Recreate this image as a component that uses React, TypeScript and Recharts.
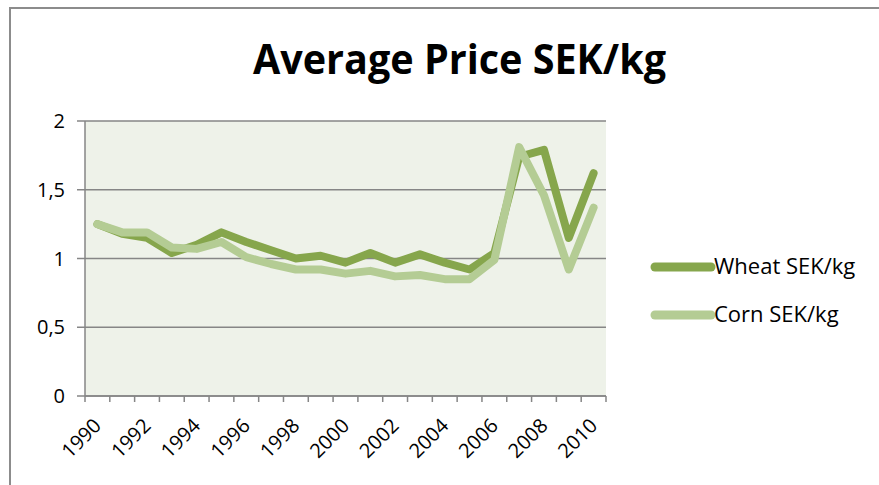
import { LineChart, Line, XAxis, YAxis, CartesianGrid, Customized } from 'recharts';

const years = [
  '1990', '1991', '1992', '1993', '1994', '1995', '1996', '1997', '1998', '1999', '2000',
  '2001', '2002', '2003', '2004', '2005', '2006', '2007', '2008', '2009', '2010',
];
const wheat = [
  1.25, 1.18, 1.15, 1.04, 1.1, 1.19, 1.12, 1.06, 1.0, 1.02, 0.97,
  1.04, 0.97, 1.03, 0.97, 0.92, 1.04, 1.74, 1.79, 1.15, 1.62,
];
const corn = [
  1.25, 1.19, 1.19, 1.08, 1.07, 1.12, 1.01, 0.96, 0.92, 0.92, 0.89,
  0.91, 0.87, 0.88, 0.85, 0.85, 0.99, 1.81, 1.46, 0.92, 1.37,
];
const yTicks = [0, 0.5, 1, 1.5, 2];
const title = 'Average Price SEK/kg';
const seriesNames = { wheat: 'Wheat SEK/kg', corn: 'Corn SEK/kg' };

const WHEAT = '#86A64C';
const CORN = '#B4CC94';
const GRID = '#868686';
const FONT = "'Open Sans', sans-serif";

const W = 879;
const H = 485;
const PLOT_L = 85;
const PLOT_R = 606;
const PLOT_T = 121;
const PLOT_B = 396;
const band = (PLOT_R - PLOT_L) / years.length;

const data = years.map((year, i) => ({ year, wheat: wheat[i], corn: corn[i] }));

function XTick(props: any) {
  const { x, y, payload, index } = props;
  const last = index === years.length - 1;
  return (
    <g>
      <line x1={x - band / 2} y1={y} x2={x - band / 2} y2={y + 6} stroke={GRID} strokeWidth={1.5} />
      {last && <line x1={x + band / 2} y1={y} x2={x + band / 2} y2={y + 6} stroke={GRID} strokeWidth={1.5} />}
      {index % 2 === 0 && (
        <text
          x={x + 5}
          y={y + 31}
          transform={`rotate(-45 ${x + 5} ${y + 31})`}
          textAnchor="end"
          fontSize={20}
          fontFamily={FONT}
          fill="#000"
        >
          {payload.value}
        </text>
      )}
    </g>
  );
}

function LegendBox() {
  const rows = [
    { name: seriesNames.wheat, color: WHEAT, y: 27 },
    { name: seriesNames.corn, color: CORN, y: 75 },
  ];
  return (
    <svg width={240} height={100} style={{ position: 'absolute', left: 640, top: 240, overflow: 'visible' }}>
      {rows.map((r) => (
        <g key={r.name}>
          <line x1={15} y1={r.y} x2={71} y2={r.y} stroke={r.color} strokeWidth={9} strokeLinecap="round" />
          <text x={74} y={r.y + 7} fontSize={22} fontFamily={FONT} fill="#000">
            {r.name}
          </text>
        </g>
      ))}
    </svg>
  );
}

export default function App() {
  return (
    <div style={{ position: 'absolute', left: 0, top: 0, width: W, height: H, background: '#fff' }}>
      <div
        style={{
          position: 'absolute',
          left: 9,
          top: 7,
          width: W - 9,
          height: H - 7,
          borderLeft: '2px solid #8C8C8C',
          borderTop: '2px solid #8C8C8C',
        }}
      />
      <LineChart
        width={W}
        height={H}
        data={data}
        margin={{ top: PLOT_T, right: W - PLOT_R, bottom: 0, left: 0 }}
        style={{ position: 'absolute', left: 0, top: 0 }}
      >
        <CartesianGrid vertical={false} stroke={GRID} strokeWidth={1.5} fill="#EEF2E9" fillOpacity={1} />
        <XAxis
          dataKey="year"
          height={H - PLOT_B}
          interval={0}
          padding={{ left: band / 2, right: band / 2 }}
          tickLine={false}
          tickSize={0}
          tickMargin={0}
          axisLine={{ stroke: GRID, strokeWidth: 1.5 }}
          tick={<XTick />}
        />
        <YAxis
          width={PLOT_L}
          domain={[0, 2]}
          ticks={yTicks}
          interval={0}
          tickSize={8}
          tickMargin={12}
          tickLine={{ stroke: GRID, strokeWidth: 1.5 }}
          axisLine={{ stroke: GRID, strokeWidth: 1.5 }}
          tickFormatter={(v: number) => String(v).replace('.', ',')}
          tick={{ fontSize: 20, fontFamily: FONT, fill: '#000' }}
        />
        <Line
          type="linear"
          dataKey="wheat"
          name={seriesNames.wheat}
          stroke={WHEAT}
          strokeWidth={8}
          strokeLinejoin="round"
          strokeLinecap="round"
          dot={false}
          isAnimationActive={false}
        />
        <Line
          type="linear"
          dataKey="corn"
          name={seriesNames.corn}
          stroke={CORN}
          strokeWidth={8}
          strokeLinejoin="round"
          strokeLinecap="round"
          dot={false}
          isAnimationActive={false}
        />
        <Customized
          component={() => (
            <text
              x={459.5}
              y={74}
              textAnchor="middle"
              textLength={413}
              lengthAdjust="spacingAndGlyphs"
              fontSize={42}
              fontWeight={700}
              fontFamily={FONT}
              fill="#000"
            >
              {title}
            </text>
          )}
        />
      </LineChart>
      <LegendBox />
    </div>
  );
}
